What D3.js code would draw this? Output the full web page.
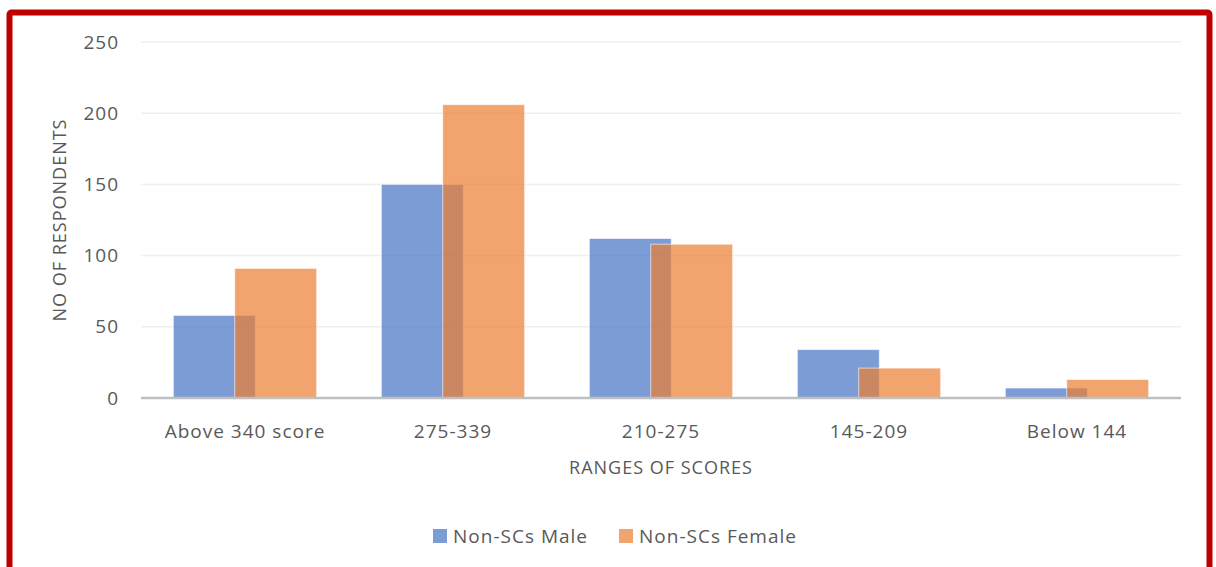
<!DOCTYPE html>
<html><head><meta charset="utf-8">
<script src="https://cdn.jsdelivr.net/npm/d3@7"></script>
<style>
html,body{margin:0;padding:0;background:#fff;}
svg{display:block;font-family:"Open Sans",sans-serif;}
</style></head>
<body>
<svg id="chart" width="1216" height="567"></svg>
<script>
const categories = ["Above 340 score", "275-339", "210-275", "145-209", "Below 144"];
const seriesNames = ["Non-SCs Male", "Non-SCs Female"];
const maleValues = [58, 150, 112, 34, 7];
const femaleValues = [91, 206, 108, 21, 13];
const yTicks = [0, 50, 100, 150, 200, 250];
const xTitle = "RANGES OF SCORES";
const yTitle = "NO OF RESPONDENTS";

const svg = d3.select("#chart");
const plot = {left: 141, right: 1181, top: 42, bottom: 398};
const colors = ["rgba(68,114,196,0.7)", "rgba(237,125,49,0.7)"];
const textColor = "#595959";
const LS = 1;

// red border
svg.append("rect").attr("x", 9.5).attr("y", 12.5).attr("width", 1200).attr("height", 600)
  .attr("fill", "none").attr("stroke", "#C00000").attr("stroke-width", 6).attr("rx", 2);

const x = d3.scaleBand().domain(categories).range([plot.left, plot.right]);
const y = d3.scaleLinear().domain([0, 250]).range([plot.bottom, plot.top]);

// gridlines
svg.append("g").selectAll("line").data(yTicks.filter(d => d > 0)).join("line")
  .attr("x1", plot.left).attr("x2", plot.right)
  .attr("y1", d => y(d)).attr("y2", d => y(d))
  .attr("stroke", "#EFEFEF").attr("stroke-width", 1.5);

// y axis labels
const yAxis = d3.axisLeft(y).tickValues(yTicks).tickSize(0).tickPadding(0);
const ya = svg.append("g").attr("transform", `translate(${plot.left - 22},0)`).call(yAxis);
ya.select(".domain").remove();
ya.selectAll("text").attr("font-size", 19).attr("letter-spacing", LS).attr("fill", textColor).attr("font-family", "Open Sans, sans-serif");

// bars
const bw = x.bandwidth() * 0.394;
const off = x.bandwidth() * 0.1475;
const series = [maleValues, femaleValues];
series.forEach((vals, si) => {
  svg.append("g").selectAll("rect").data(vals).join("rect")
    .attr("x", (d, i) => x(categories[i]) + x.bandwidth() / 2 + (si === 0 ? -off : off) - bw / 2)
    .attr("y", d => y(d))
    .attr("width", bw)
    .attr("height", d => y(0) - y(d))
    .attr("fill", colors[si])
    .attr("stroke", "rgba(255,255,255,0.6)").attr("stroke-width", 1);
});

// x axis
const xAxis = d3.axisBottom(x).tickSize(0).tickPadding(0);
const xa = svg.append("g").attr("transform", `translate(0,${plot.bottom})`).call(xAxis);
xa.select(".domain").attr("stroke", "#BFBFBF").attr("stroke-width", 2.5).attr("d", `M${plot.left},0H${plot.right}`);
xa.selectAll("text").attr("font-size", 19).attr("letter-spacing", LS).attr("fill", textColor).attr("font-family", "Open Sans, sans-serif")
  .attr("dy", 0).attr("y", 40);

// axis titles
svg.append("text").attr("x", (plot.left + plot.right) / 2).attr("y", 474).attr("text-anchor", "middle")
  .attr("font-size", 18).attr("letter-spacing", LS).attr("fill", textColor).text(xTitle);
svg.append("text").attr("transform", `translate(66,${(plot.top + plot.bottom) / 2}) rotate(-90)`)
  .attr("text-anchor", "middle").attr("font-size", 18).attr("letter-spacing", LS).attr("fill", textColor).text(yTitle);

// legend
const legendItems = [{x: 433, name: seriesNames[0], c: colors[0]}, {x: 619, name: seriesNames[1], c: colors[1]}];
const lg = svg.append("g");
legendItems.forEach(it => {
  lg.append("rect").attr("x", it.x).attr("y", 529).attr("width", 14).attr("height", 14).attr("fill", it.c);
  lg.append("text").attr("x", it.x + 20).attr("y", 543).attr("font-size", 19).attr("letter-spacing", LS).attr("fill", textColor).text(it.name);
});
</script>
</body></html>
